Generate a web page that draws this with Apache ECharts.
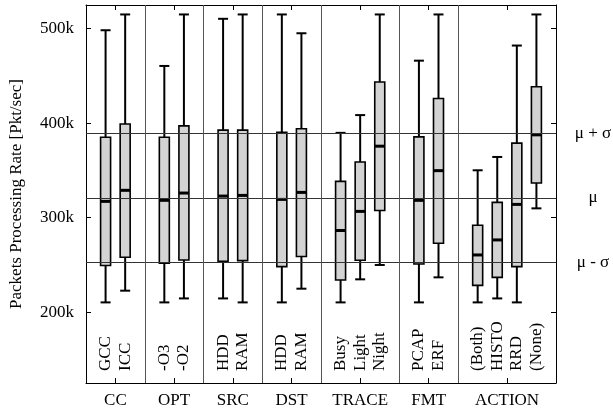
<!DOCTYPE html>
<html>
<head>
<meta charset="utf-8">
<script src="https://cdn.jsdelivr.net/npm/echarts@6/dist/echarts.min.js"></script>
<style>
html,body{margin:0;padding:0;background:#fff;}
#chart{width:613px;height:414px;}
</style>
</head>
<body>
<div id="chart"></div>
<script>
// ---- data ----
const groupNames = ['CC', 'OPT', 'SRC', 'DST', 'TRACE', 'FMT', 'ACTION'];
const groupMembers = [
  ['GCC', 'ICC'],
  ['-O3', '-O2'],
  ['HDD', 'RAM'],
  ['HDD', 'RAM'],
  ['Busy', 'Light', 'Night'],
  ['PCAP', 'ERF'],
  ['(Both)', 'HISTO', 'RRD', '(None)']
];
const whiskerLow  = [210300, 222700, 210300, 214500, 214500, 210300, 210300, 224800, 210300, 234700, 249900, 210300, 236800, 210300, 214500, 210300, 309800];
const q1          = [249300, 258000, 251700, 255200, 253800, 254500, 248200, 258800, 234000, 254900, 307600, 251000, 272900, 228300, 236800, 248200, 336600];
const median      = [317200, 328900, 318300, 326000, 322800, 323500, 319300, 326700, 286400, 306600, 375600, 318300, 349700, 260500, 276400, 314000, 387600];
const q3          = [385100, 399000, 385000, 397100, 392600, 392600, 390400, 394000, 338400, 358900, 443500, 385500, 426100, 292000, 316100, 378800, 438500];
const whiskerHigh = [498300, 515000, 460500, 515000, 510400, 515000, 515000, 495100, 389700, 408500, 515000, 466100, 515000, 350100, 364200, 482100, 515000];
const statValues = [389500, 321000, 252500];
const statLabels = ['μ + σ', 'μ', 'μ - σ'];
const yTicks = [200000, 300000, 400000, 500000];
const yMin = 125000, yMax = 525000;

// ---- derived layout (slot indices along the x value axis) ----
const positions = [], names = [], separators = [], groupCenters = [];
let cursor = 0;
groupMembers.forEach((members, gi) => {
  groupCenters.push(cursor + (members.length + 1) / 2);
  members.forEach((m, i) => { positions.push(cursor + i + 1); names.push(m); });
  cursor += members.length + 1;
  if (gi < groupMembers.length - 1) separators.push(cursor);
});
const xMax = cursor;

const boxData = positions.map((p, i) => [p, whiskerLow[i], q1[i], median[i], q3[i], whiskerHigh[i], names[i]]);

const FONT = 'Liberation Serif, Times New Roman, serif';

const chart = echarts.init(document.getElementById('chart'), null, {renderer: 'canvas'});

function groupLabel(v) {
  const i = groupCenters.findIndex(c => Math.abs(c - v) < 1e-6);
  return i >= 0 ? groupNames[i] : '';
}

const option = {
  animation: false,
  backgroundColor: '#fff',
  grid: {left: 86, top: 5, width: 470, height: 378, containLabel: false},
  xAxis: [
    {
      type: 'value', min: 0, max: xMax, position: 'bottom',
      axisLine: {show: true, onZero: false, lineStyle: {color: '#000', width: 1}},
      axisTick: {show: true, inside: true, length: 5, customValues: groupCenters, lineStyle: {color: '#000'}},
      axisLabel: {show: true, customValues: groupCenters, formatter: groupLabel, margin: 9,
        color: '#000', fontFamily: FONT, fontSize: 17},
      splitLine: {show: false}
    },
    {
      type: 'value', min: 0, max: xMax, position: 'top',
      axisLine: {show: true, onZero: false, lineStyle: {color: '#000', width: 1}},
      axisTick: {show: true, inside: true, length: 5, customValues: groupCenters, lineStyle: {color: '#000'}},
      axisLabel: {show: false},
      splitLine: {show: false}
    }
  ],
  yAxis: [
    {
      type: 'value', min: yMin, max: yMax, position: 'left',
      name: 'Packets Processing Rate [Pkt/sec]', nameLocation: 'middle', nameGap: 61,
      nameTextStyle: {color: '#000', fontFamily: FONT, fontSize: 17},
      axisLine: {show: true, onZero: false, lineStyle: {color: '#000', width: 1}},
      axisTick: {show: true, inside: true, length: 5, customValues: yTicks, lineStyle: {color: '#000'}},
      axisLabel: {show: true, customValues: yTicks, margin: 12, formatter: v => (v / 1000) + 'k',
        color: '#000', fontFamily: FONT, fontSize: 17},
      splitLine: {show: false}
    },
    {
      type: 'value', min: yMin, max: yMax, position: 'right',
      axisLine: {show: true, onZero: false, lineStyle: {color: '#000', width: 1}},
      axisTick: {show: true, inside: true, length: 5, customValues: yTicks, lineStyle: {color: '#000'}},
      axisLabel: {show: false},
      splitLine: {show: false}
    }
  ],
  series: [
    {
      type: 'line', data: [], z: 1, silent: true,
      markLine: {
        silent: true, symbol: 'none', animation: false,
        data: [
          ...statValues.map((v, i) => ({
            yAxis: v,
            lineStyle: {color: '#333', width: 1, type: 'solid'},
            label: {show: true, position: 'end', formatter: statLabels[i], distance: 37, align: 'center',
              color: '#000', fontFamily: FONT, fontSize: 17}
          })),
          ...separators.map(s => ({
            xAxis: s,
            lineStyle: {color: '#555', width: 1, type: 'solid'},
            label: {show: false}
          }))
        ]
      }
    },
    {
      type: 'custom', z: 3,
      data: boxData,
      encode: {x: 0, y: [1, 2, 3, 4, 5]},
      renderItem: function (params, api) {
        const x = api.value(0);
        const lo = api.coord([x, api.value(1)]);
        const b1 = api.coord([x, api.value(2)]);
        const md = api.coord([x, api.value(3)]);
        const b3 = api.coord([x, api.value(4)]);
        const hi = api.coord([x, api.value(5)]);
        const bottom = api.coord([x, yMin])[1];
        const cx = lo[0];
        const bw = 10, cw = 10;
        const ls = {stroke: '#000', lineWidth: 2};
        return {
          type: 'group',
          children: [
            {type: 'line', shape: {x1: cx, y1: hi[1], x2: cx, y2: b3[1]}, style: ls},
            {type: 'line', shape: {x1: cx, y1: b1[1], x2: cx, y2: lo[1]}, style: ls},
            {type: 'line', shape: {x1: cx - cw / 2, y1: hi[1], x2: cx + cw / 2, y2: hi[1]}, style: ls},
            {type: 'line', shape: {x1: cx - cw / 2, y1: lo[1], x2: cx + cw / 2, y2: lo[1]}, style: ls},
            {type: 'rect', shape: {x: cx - bw / 2, y: b3[1], width: bw, height: b1[1] - b3[1]},
              style: {fill: '#d3d3d3', stroke: '#000', lineWidth: 1.6}},
            {type: 'line', shape: {x1: cx - bw / 2, y1: md[1], x2: cx + bw / 2, y2: md[1]},
              style: {stroke: '#000', lineWidth: 3}},
            {type: 'text', x: cx, y: bottom - 12, rotation: Math.PI / 2,
              style: {text: api.value(6), fill: '#000', font: '17px ' + FONT, align: 'left', verticalAlign: 'middle'}}
          ]
        };
      }
    }
  ]
};
chart.setOption(option);
</script>
</body>
</html>
